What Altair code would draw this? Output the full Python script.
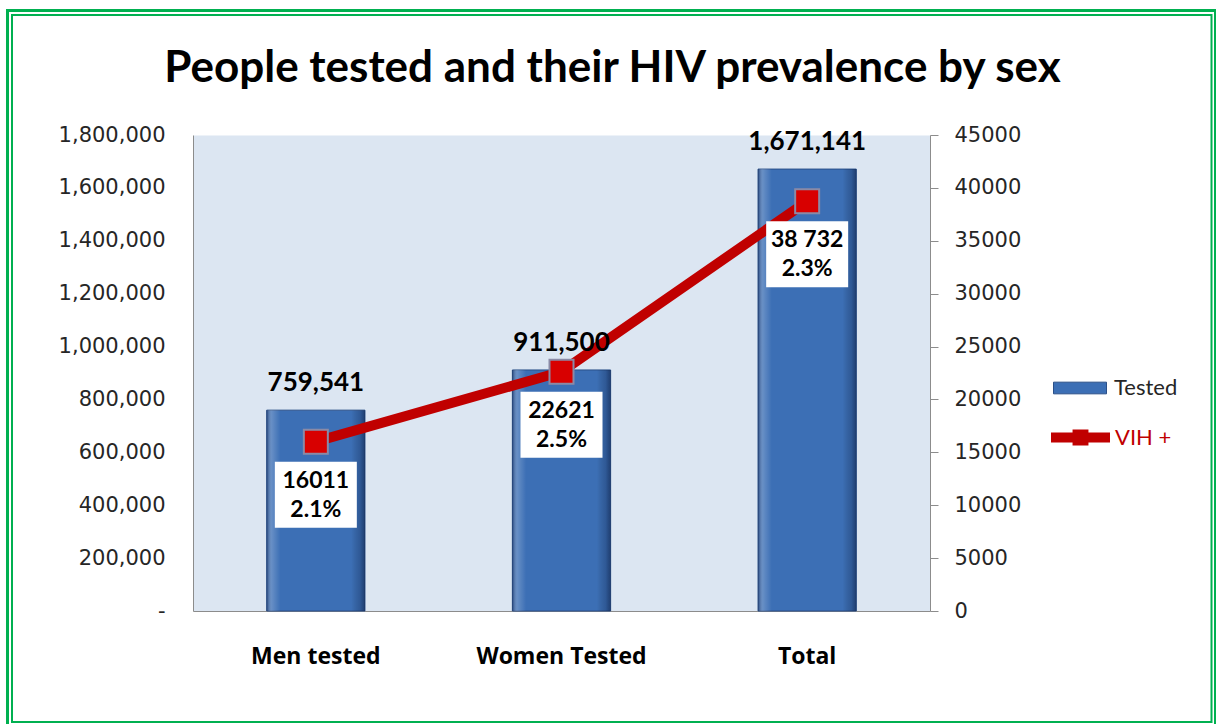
import altair as alt
import pandas as pd

categories = ["Men tested", "Women Tested", "Total"]
tested = [759541, 911500, 1671141]
hiv_positive = [16011, 22621, 38732]
hiv_text = ["16011", "22621", "38 732"]
prevalence = ["2.1%", "2.5%", "2.3%"]
left_ticks = [0, 200000, 400000, 600000, 800000, 1000000, 1200000, 1400000, 1600000, 1800000]
right_ticks = [0, 5000, 10000, 15000, 20000, 25000, 30000, 35000, 40000, 45000]

df = pd.DataFrame({
    "category": categories,
    "tested": tested,
    "hiv": hiv_positive,
    "box_label": [a + "\n" + b for a, b in zip(hiv_text, prevalence)],
})

PX = 45000 / 476.0  # right-axis units per pixel

GRID = "#8c8c8c"
TXT = "#262626"

x_enc = alt.X(
    "category:N", sort=categories,
    scale=alt.Scale(paddingInner=0.6, paddingOuter=0.3),
    axis=alt.Axis(title=None, labelFont="Open Sans", labelFontWeight="bold", labelFontSize=23,
                  labelColor="#000000", labelPadding=34, ticks=False, domainColor=GRID,
                  labelAngle=0, grid=False),
)

left_scale = alt.Scale(domain=[0, 1800000], nice=False, zero=True)
left_axis = alt.Axis(
    orient="left", values=left_ticks, title=None, ticks=False, grid=False,
    domainColor=GRID, labelFont="DejaVu Sans", labelFontSize=21, labelColor=TXT,
    labelPadding=28,
    labelExpr="datum.value == 0 ? '-\u00a0\u00a0' : format(datum.value, ',')",
)

right_scale = alt.Scale(domain=[0, 45000], nice=False, zero=True)
right_axis = alt.Axis(
    orient="right", values=right_ticks, title=None, grid=False, format="d",
    domainColor=GRID, tickColor=GRID, tickSize=8, labelFont="DejaVu Sans",
    labelFontSize=21, labelColor=TXT, labelPadding=16,
)


def ry(field):
    return alt.Y(field, type="quantitative", scale=right_scale, axis=right_axis)


base = alt.Chart(df)

border = alt.Chart(pd.DataFrame({"k": [0]})).mark_rect(
    fillOpacity=0, stroke="#00b050", strokeWidth=3
).encode(x=alt.value(-185.5), x2=alt.value(1022.5), y=alt.value(-124.5), y2=alt.value(593))
border_inner = alt.Chart(pd.DataFrame({"k": [0]})).mark_rect(
    fillOpacity=0, stroke="#00b050", strokeWidth=2
).encode(x=alt.value(-181), x2=alt.value(1018.5), y=alt.value(-120), y2=alt.value(587))

bars = base.transform_calculate(series="'Tested'").mark_bar(
    stroke="#2a4f88", strokeWidth=1
).encode(
    x=x_enc,
    y=alt.Y("tested:Q", scale=left_scale, axis=left_axis),
    fill=alt.Fill("series:N", scale=alt.Scale(domain=["Tested"], range=["#3c6fb5"]),
                  legend=alt.Legend(title=None, orient="none", legendX=860, legendY=226,
                                    symbolType="M-1,-0.22H1V0.22H-1Z", symbolSize=2809,
                                    labelFont="Lato", labelFontSize=22, labelColor=TXT,
                                    labelOffset=7, padding=0, symbolStrokeColor="#2a4f88",
                                    symbolStrokeWidth=1)),
)

shade = base.mark_bar(
    fill=alt.Gradient(
        gradient="linear", x1=0, x2=1, y1=0, y2=0,
        stops=[
            alt.GradientStop(offset=0, color="rgba(15,35,80,0.55)"),
            alt.GradientStop(offset=0.05, color="rgba(255,255,255,0.22)"),
            alt.GradientStop(offset=0.14, color="rgba(255,255,255,0.0)"),
            alt.GradientStop(offset=0.86, color="rgba(0,0,0,0.0)"),
            alt.GradientStop(offset=0.95, color="rgba(0,10,40,0.22)"),
            alt.GradientStop(offset=1, color="rgba(10,25,60,0.55)"),
        ],
    )
).encode(x=x_enc, y=alt.Y("tested:Q", scale=left_scale, axis=left_axis))

bar_text = base.mark_text(
    font="Lato", fontWeight="bold", fontSize=26, baseline="alphabetic", dy=-19, color="#000000"
).encode(
    x=x_enc, y=alt.Y("tested:Q", scale=left_scale, axis=None),
    text=alt.Text("tested:Q", format=","),
)

left_group = alt.layer(border, border_inner, bars, shade)

line = base.transform_calculate(series2="'VIH +'").mark_line(strokeWidth=10).encode(
    x=x_enc, y=ry("hiv"),
    stroke=alt.Stroke("series2:N", scale=alt.Scale(domain=["VIH +"], range=["#c00000"]),
                      legend=alt.Legend(title=None, orient="none", legendX=853, legendY=268,
                                        symbolType="M-1,0H1M-0.1,-0.1H0.1V0.1H-0.1Z",
                                        symbolSize=3481, symbolStrokeWidth=10,
                                        labelFont="Lato", labelFontSize=22,
                                        labelColor="#c00000", labelOffset=0, padding=0)),
)

points = base.mark_point(
    shape="square", size=576, filled=True, fill="#d80000", stroke="#8a8aa6",
    strokeWidth=2, opacity=1
).encode(x=x_enc, y=ry("hiv"))

boxes = base.transform_calculate(
    box_hi=f"datum.hiv - {20 * PX}", box_lo=f"datum.hiv - {86 * PX}"
).mark_bar(width=82, color="#ffffff").encode(
    x=x_enc, y=ry("box_hi"), y2="box_lo:Q"
)

box_text = base.transform_calculate(text_y=f"datum.hiv - {53 * PX}").mark_text(
    font="Lato", fontWeight="bold", fontSize=23, lineBreak="\n", lineHeight=29,
    baseline="middle", dy=-14, color="#000000"
).encode(x=x_enc, y=ry("text_y"), text="box_label:N")

right_group = alt.layer(line, points, boxes, box_text)

chart = alt.layer(left_group, right_group, bar_text).resolve_scale(
    y="independent", fill="independent", stroke="independent"
).properties(
    width=737, height=476,
    autosize=alt.AutoSizeParams(type="none"),
    padding={"left": 193, "top": 135, "right": 286, "bottom": 113},
    background="#ffffff",
    title=alt.TitleParams(
        "People tested and their HIV prevalence by sex",
        font="Lato", fontSize=44, fontWeight="bold", color="#000000",
        anchor="middle", dx=51, offset=0, baseline="alphabetic", dy=117,
    ),
).configure_view(fill="#dce6f2", stroke="transparent")

chart.save("out.html", embed_options={"renderer": "svg", "actions": False})
